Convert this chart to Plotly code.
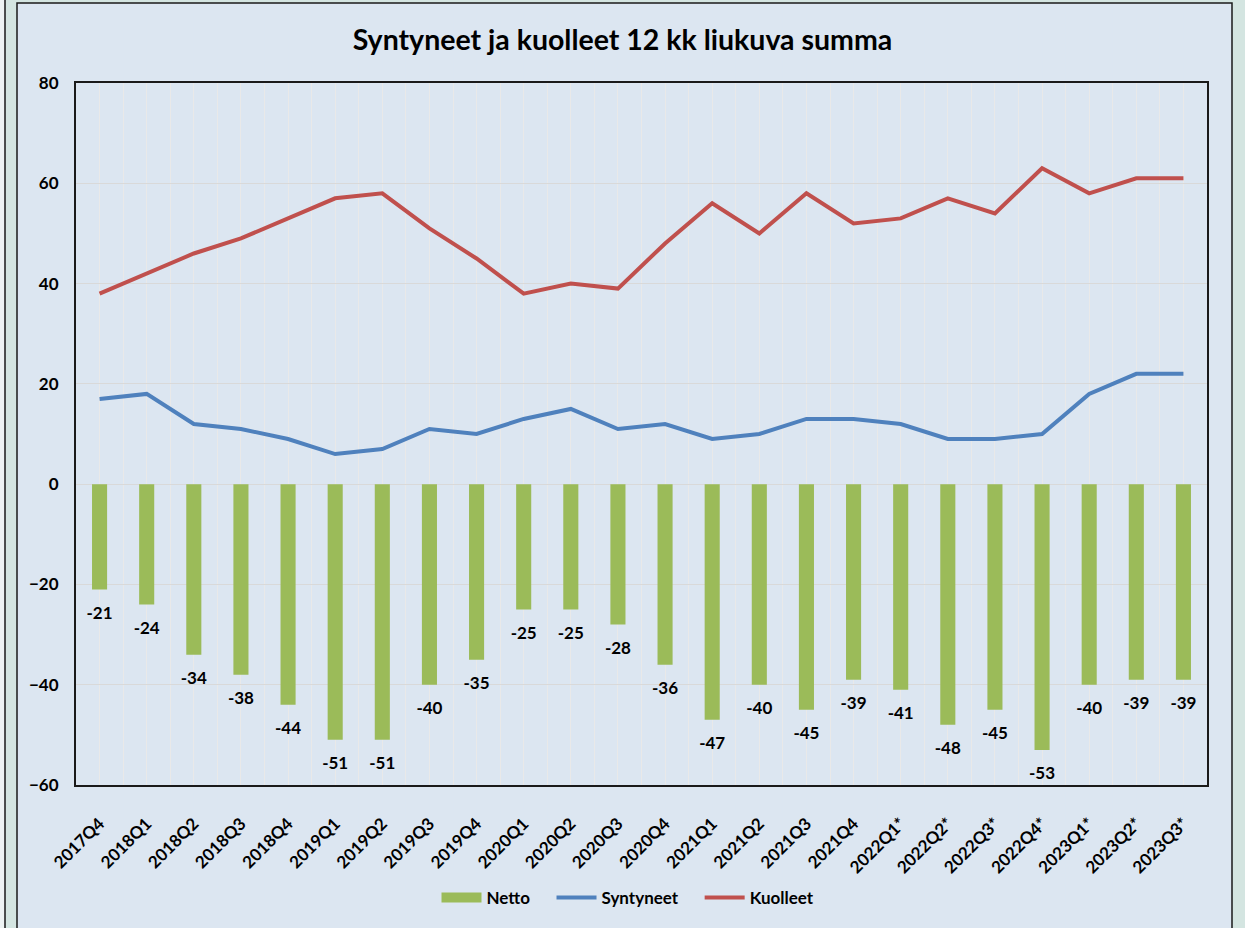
import plotly.graph_objects as go

categories = ["2017Q4", "2018Q1", "2018Q2", "2018Q3", "2018Q4", "2019Q1", "2019Q2", "2019Q3",
              "2019Q4", "2020Q1", "2020Q2", "2020Q3", "2020Q4", "2021Q1", "2021Q2", "2021Q3",
              "2021Q4", "2022Q1*", "2022Q2*", "2022Q3*", "2022Q4*", "2023Q1*", "2023Q2*", "2023Q3*"]
netto = [-21, -24, -34, -38, -44, -51, -51, -40, -35, -25, -25, -28, -36, -47, -40, -45,
         -39, -41, -48, -45, -53, -40, -39, -39]
syntyneet = [17, 18, 12, 11, 9, 6, 7, 11, 10, 13, 15, 11, 12, 9, 10, 13, 13, 12, 9, 9, 10, 18, 22, 22]
kuolleet = [38, 42, 46, 49, 53, 57, 58, 51, 45, 38, 40, 39, 48, 56, 50, 58, 52, 53, 57, 54, 63, 58, 61, 61]
y_ticks = [-60, -40, -20, 0, 20, 40, 60, 80]

xpos = list(range(len(categories)))
FONT = "Lato"
GREEN, BLUE, RED = "#9bbb59", "#4f81bd", "#c0504d"
PAD = "\u00a0" * 4

fig = go.Figure()
fig.add_trace(go.Bar(
    x=xpos, y=netto, name="Netto", marker=dict(color=GREEN, line=dict(width=0)),
    width=0.32, showlegend=False,
))
# data labels below the bar ends
fig.add_trace(go.Scatter(
    x=xpos, y=netto, mode="markers+text", text=[f"<b>{v}</b>" for v in netto],
    textposition="bottom center", marker=dict(size=25, color="rgba(0,0,0,0)"),
    textfont=dict(family=FONT, size=17, color="black", weight="bold"),
    showlegend=False, hoverinfo="skip", cliponaxis=False,
))
# legend entry for Netto (wide green swatch)
fig.add_trace(go.Scatter(x=[None], y=[None], mode="lines", name="Netto" + PAD,
                         line=dict(color=GREEN, width=10)))
fig.add_trace(go.Scatter(x=xpos, y=syntyneet, name="Syntyneet" + PAD, mode="lines",
                         line=dict(color=BLUE, width=4)))
fig.add_trace(go.Scatter(x=xpos, y=kuolleet, name="Kuolleet", mode="lines",
                         line=dict(color=RED, width=4)))

W, H = 1245, 928
L, R, T, B = 76, 38, 83, 143
pw, ph = W - L - R, H - T - B

def px_x(p):
    return (p - L) / pw

def px_y(p):
    return 1 - (p - T) / ph

shapes = [
    dict(type="rect", xref="paper", yref="paper", layer="below",
         x0=px_x(17), x1=px_x(1232), y0=px_y(960), y1=px_y(3),
         fillcolor="#dce6f1", line=dict(color="#1a1a1a", width=1.5)),
    dict(type="rect", xref="paper", yref="paper", layer="below",
         x0=px_x(-20), x1=px_x(5), y0=px_y(960), y1=px_y(-20),
         fillcolor="#eef3f3", line=dict(color="#1a1a1a", width=1.5)),
]

fig.update_layout(
    width=W, height=H,
    margin=dict(l=L, r=R, t=T, b=B),
    paper_bgcolor="#d4e5e1",
    plot_bgcolor="white",
    shapes=shapes,
    title=dict(text="<b>Syntyneet ja kuolleet 12 kk liukuva summa</b>",
               x=0.5, xanchor="center", y=1 - 40 / H, yanchor="middle",
               font=dict(family=FONT, size=28.5, color="black")),
    font=dict(family=FONT, size=17, color="black"),
    showlegend=True,
    legend=dict(orientation="h", x=px_x(628), xanchor="center", y=px_y(898), yanchor="middle",
                font=dict(family=FONT, size=17, color="black", weight="bold"),
                bgcolor="rgba(0,0,0,0)", traceorder="normal", itemwidth=40),
)
fig.update_xaxes(
    range=[-0.5, len(categories) - 0.5],
    tickmode="array", tickvals=xpos, ticktext=categories, tickangle=-45,
    tickfont=dict(family=FONT, size=17, color="black", weight="bold"),
    showgrid=False, zeroline=False,
    minor=dict(tickmode="linear", tick0=-0.5, dtick=0.5, showgrid=True, gridcolor="#e9e9e9", gridwidth=1),
    showline=True, linecolor="#1a1a1a", linewidth=2, mirror=True,
    ticks="", ticklabelstandoff=20,
)
fig.update_yaxes(
    range=[-60, 80], tickmode="array", tickvals=y_ticks,
    tickfont=dict(family=FONT, size=17, color="black", weight="bold"),
    showgrid=True, gridcolor="#d9d9d9", gridwidth=1,
    zeroline=True, zerolinecolor="#d9d9d9", zerolinewidth=1,
    showline=True, linecolor="#1a1a1a", linewidth=2, mirror=True,
    ticks="", ticklabelstandoff=12,
)

fig.write_html("out.html", config={"displayModeBar": False},
               post_script="document.body.style.margin='0';document.body.style.overflow='hidden';")
